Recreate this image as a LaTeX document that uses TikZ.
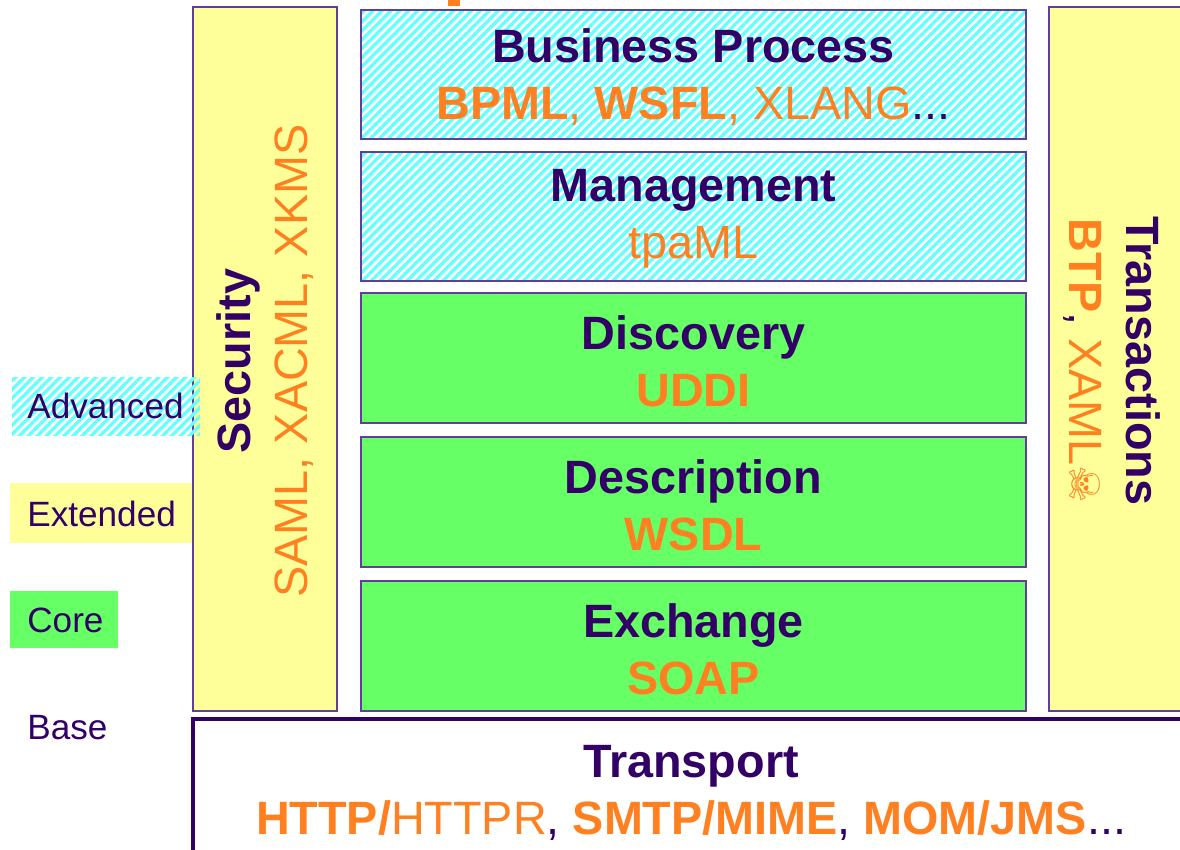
\documentclass[tikz,border=0pt]{standalone}
\usepackage{fontspec}
\setmainfont{Liberation Sans}
\newfontfamily\symbfont{DejaVu Sans}
\usepackage{tikz}
\usetikzlibrary{patterns.meta}
\definecolor{wspurple}{RGB}{51,0,102}
\definecolor{wsframe}{RGB}{96,64,150}
\definecolor{wsorange}{RGB}{255,128,32}
\definecolor{wsyellow}{RGB}{255,255,153}
\definecolor{wsgreen}{RGB}{102,255,102}
\definecolor{wscyan}{RGB}{102,255,255}
\newcommand{\ob}[1]{{\bfseries\color{wsorange}#1}}
\newcommand{\on}[1]{{\color{wsorange}#1}}

\begin{document}
\begin{tikzpicture}[x=0.2mm, y=-0.2mm,
    layer/.style={draw=wsframe, line width=1.2pt},
    hatch/.style={pattern={Lines[angle=45, distance=3.6pt, line width=1.9pt]}, pattern color=wscyan},
    advbox/.style={layer, hatch},
    extbox/.style={layer, fill=wsyellow},
    corebox/.style={layer, fill=wsgreen},
    layertext/.style={text=wspurple, align=center, inner sep=0pt, font=\fontsize{26.6}{32.5}\selectfont},
    legendtext/.style={text=wspurple, anchor=west, inner sep=0pt, font=\fontsize{20}{24}\selectfont}]
                \clip (0,0) rectangle (1180,849);
                \fill[white] (0,0) rectangle (1180,849);
                \fill[wsorange] (448,0) rectangle (460,6);
                % side columns
                \draw[extbox] (193,7) rectangle (337,711);
                \draw[extbox] (1049,7) rectangle (1200,711);
                \node[layertext, rotate=90] (security) at (265,361) {\textbf{Security}\\\on{SAML, XACML, XKMS}};
                \node[layertext, rotate=-90] (transactions) at (1112,361) {\textbf{Transactions}\\\ob{BTP}, \on{XAML}{\symbfont\fontsize{24}{26}\selectfont\color{wsorange}☠}};
                % stack
                \draw[advbox] (361,10) rectangle (1026,139);
                \node[layertext] (process) at (693.5,77) {\textbf{Business Process}\\\ob{BPML}\on{, }\ob{WSFL}\on{, XLANG}...};
                \draw[advbox] (361,152) rectangle (1026,281);
                \node[layertext] (management) at (693.5,219) {\textbf{Management}\\\on{tpaML}};
                \draw[corebox] (361,293) rectangle (1026,423);
                \node[layertext] (discovery) at (693.5,361) {\textbf{Discovery}\\\ob{UDDI}};
                \draw[corebox] (361,437) rectangle (1026,567);
                \node[layertext] (description) at (693.5,505) {\textbf{Description}\\\ob{WSDL}};
                \draw[corebox] (361,581) rectangle (1026,711);
                \node[layertext] (exchange) at (693.5,649) {\textbf{Exchange}\\\ob{SOAP}};
                \draw[draw=wspurple, line width=1.8pt] (193,719) rectangle (1210,900);
                \node[layertext] (transport) at (691,793) {\textbf{Transport}\\\ob{HTTP/}\on{HTTPR}, \ob{SMTP/MIME}, \ob{MOM/JMS}...};
                % legend
                \path[hatch] (12,377) rectangle (200,435);
                \fill[wsyellow] (10,483) rectangle (192,543);
                \fill[wsgreen] (10,591) rectangle (118,648);
                \node[legendtext] (advanced) at (27,406) {Advanced};
                \node[legendtext] (extended) at (27,514) {Extended};
                \node[legendtext] (core) at (27,620) {Core};
                \node[legendtext] (base) at (27,728) {Base};
            \end{tikzpicture}
\end{document}
